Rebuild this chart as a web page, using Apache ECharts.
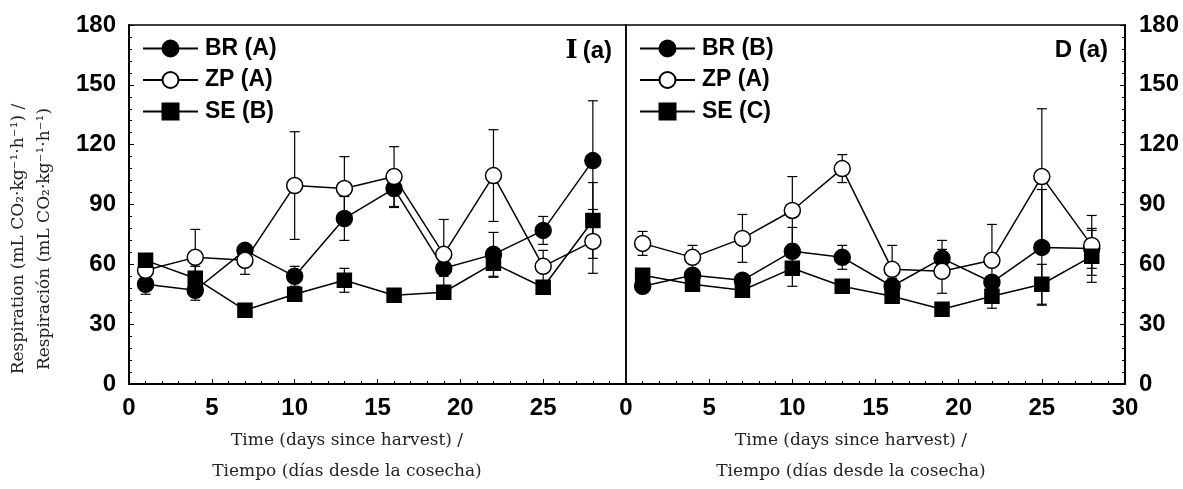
<!DOCTYPE html>
<html>
<head>
<meta charset="utf-8">
<script src="https://cdn.jsdelivr.net/npm/echarts@6/dist/echarts.min.js"></script>
<style>
  html, body { margin: 0; padding: 0; background: #fff; }
  #chart { width: 1183px; height: 489px; }
</style>
</head>
<body>
<div id="chart"></div>
<script>
// days since harvest
const days = [1, 4, 7, 10, 13, 16, 19, 22, 25, 28]
const yTicks = [0, 30, 60, 90, 120, 150, 180]

// panel I (a)
const brI = [50, 47, 67, 54, 83, 98, 58, 65, 77, 112]
const brIErr = [5, 5, 3, 5, 11, 9.5, 4, 11, 7, 30]
const zpI = [57, 63.5, 62, 99.5, 98, 104, 65, 104.5, 59, 71.5]
const zpIErr = [4, 14, 7, 27, 16, 15, 17.5, 23, 8, 16]
const seI = [62, 53, 37, 45, 52, 44.5, 46, 60.5, 48.5, 82]
const seIErr = [3, 6, 2, 3, 6, 2, 2, 7, 2, 19]

// panel D (a)
const brD = [49, 54.5, 52, 66.5, 63.5, 49, 63, 51, 68.5, 68]
const brDErr = [3, 3, 3, 12, 6, 4, 9, 3, 29, 10]
const zpD = [70.5, 63.5, 73, 87, 108, 57.5, 56.5, 62, 104, 69.5]
const zpDErr = [6, 6, 12, 17, 7, 12, 11, 18, 34, 15]
const seD = [54.5, 50, 47, 58, 49, 44, 37.5, 44, 50, 64]
const seDErr = [3, 3, 3, 9, 2, 3, 2, 6, 10, 13]

const sans = "'Liberation Sans', Arial, sans-serif"
const serif = "'DejaVu Serif', serif"

const chart = echarts.init(document.getElementById('chart'))

function pairs(vals) {
  return days.map((d, i) => [d, vals[i]])
}

// vertical error bar with caps, drawn under the markers
function errorBar(idx, vals, errs) {
  return {
    type: 'custom',
    xAxisIndex: idx,
    yAxisIndex: idx,
    silent: true,
    z: 1,
    encode: { x: 0, y: [1, 2] },
    data: days.map((d, i) => [d, vals[i] - errs[i], vals[i] + errs[i]]),
    renderItem(params, api) {
      const lo = api.coord([api.value(0), api.value(1)])
      const hi = api.coord([api.value(0), api.value(2)])
      const w = 5
      const st = { stroke: '#000', lineWidth: 1.2 }
      return {
        type: 'group',
        children: [
          { type: 'line', shape: { x1: hi[0], y1: hi[1], x2: lo[0], y2: lo[1] }, style: st },
          { type: 'line', shape: { x1: hi[0] - w, y1: hi[1], x2: hi[0] + w, y2: hi[1] }, style: st },
          { type: 'line', shape: { x1: lo[0] - w, y1: lo[1], x2: lo[0] + w, y2: lo[1] }, style: st }
        ]
      }
    }
  }
}

function lineSeries(idx, name, vals, kind) {
  const s = {
    name: name,
    type: 'line',
    xAxisIndex: idx,
    yAxisIndex: idx,
    data: pairs(vals),
    z: 3,
    lineStyle: { color: '#000', width: 1.5 },
    itemStyle: { color: '#000', borderColor: '#000', borderWidth: 1.5 },
    symbol: 'circle',
    symbolSize: 16
  }
  if (kind === 'open') {
    s.itemStyle = { color: '#fff', borderColor: '#000', borderWidth: 1.5 }
  }
  if (kind === 'square') {
    s.symbol = 'rect'
    s.symbolSize = 14
  }
  return s
}

function xAxis(idx, showMax) {
  return {
    type: 'value',
    gridIndex: idx,
    min: 0,
    max: 30,
    interval: 5,
    axisLine: { onZero: false, lineStyle: { color: '#000', width: 2 } },
    axisTick: { inside: true, length: 5, lineStyle: { color: '#000', width: 1 } },
    minorTick: { show: true, splitNumber: 5, length: 3, lineStyle: { color: '#000', width: 1 } },
    splitLine: { show: false },
    axisLabel: {
      showMaxLabel: showMax,
      margin: 12,
      color: '#000',
      fontFamily: sans,
      fontWeight: 'bold',
      fontSize: 24
    }
  }
}

function yAxis(idx, pos) {
  return {
    type: 'value',
    gridIndex: idx,
    position: pos,
    min: yTicks[0],
    max: yTicks[yTicks.length - 1],
    interval: yTicks[1] - yTicks[0],
    axisLine: { show: true, onZero: false, lineStyle: { color: '#000', width: 2 } },
    axisTick: { show: true, inside: true, length: 5, lineStyle: { color: '#000', width: 1 } },
    minorTick: { show: true, splitNumber: 5, length: 3, lineStyle: { color: '#000', width: 1 } },
    splitLine: { show: false },
    axisLabel: {
      margin: pos === 'left' ? 13 : 14,
      color: '#000',
      fontFamily: sans,
      fontWeight: 'bold',
      fontSize: 24
    }
  }
}

function legend(left, names) {
  return {
    orient: 'vertical',
    left: left,
    top: 32,
    itemWidth: 55,
    itemHeight: 20,
    itemGap: 8.5,
    selectedMode: false,
    data: names,
    textStyle: {
      color: '#000',
      fontFamily: sans,
      fontWeight: 'bold',
      fontSize: 23,
      lineHeight: 20,
      padding: [0, 0, 0, 2]
    }
  }
}

const axisNameStyle = { fill: '#222', font: '17px ' + serif, textAlign: 'center', textVerticalAlign: 'middle' }

const option = {
  backgroundColor: '#fff',
  animation: false,
  title: [
    {
      text: '{s|I} {b|(a)}',
      right: 566,
      top: 33,
      textStyle: {
        rich: {
          s: { fontFamily: serif, fontWeight: 'bold', fontSize: 26, color: '#000' },
          b: { fontFamily: sans, fontWeight: 'bold', fontSize: 24, color: '#000' }
        }
      }
    },
    {
      text: 'D (a)',
      right: 70,
      top: 33,
      textStyle: { fontFamily: sans, fontWeight: 'bold', fontSize: 24, color: '#000' }
    }
  ],
  legend: [
    legend(137, ['BR (A)', 'ZP (A)', 'SE (B)']),
    legend(634, ['BR (B)', 'ZP (A)', 'SE (C)'])
  ],
  grid: [
    { left: 129, top: 25, width: 497, height: 359, show: true, borderColor: '#000', borderWidth: 1.5 },
    { left: 626, top: 25, width: 499, height: 359, show: true, borderColor: '#000', borderWidth: 1.5 }
  ],
  xAxis: [xAxis(0, false), xAxis(1, true)],
  yAxis: [yAxis(0, 'left'), yAxis(1, 'right')],
  graphic: [
    { type: 'text', x: 19, y: 239, rotation: Math.PI / 2,
      style: Object.assign({ text: 'Respiration (mL CO₂·kg⁻¹·h⁻¹) /' }, axisNameStyle) },
    { type: 'text', x: 45, y: 239, rotation: Math.PI / 2,
      style: Object.assign({ text: 'Respiración (mL CO₂·kg⁻¹·h⁻¹)' }, axisNameStyle) },
    { type: 'text', x: 347, y: 441, style: Object.assign({ text: 'Time (days since harvest) /' }, axisNameStyle) },
    { type: 'text', x: 347, y: 472, style: Object.assign({ text: 'Tiempo (días desde la cosecha)' }, axisNameStyle) },
    { type: 'text', x: 851, y: 441, style: Object.assign({ text: 'Time (days since harvest) /' }, axisNameStyle) },
    { type: 'text', x: 851, y: 472, style: Object.assign({ text: 'Tiempo (días desde la cosecha)' }, axisNameStyle) }
  ],
  series: [
    errorBar(0, brI, brIErr),
    errorBar(0, zpI, zpIErr),
    errorBar(0, seI, seIErr),
    lineSeries(0, 'BR (A)', brI, 'filled'),
    lineSeries(0, 'ZP (A)', zpI, 'open'),
    lineSeries(0, 'SE (B)', seI, 'square'),
    errorBar(1, brD, brDErr),
    errorBar(1, zpD, zpDErr),
    errorBar(1, seD, seDErr),
    lineSeries(1, 'BR (B)', brD, 'filled'),
    lineSeries(1, 'ZP (A)', zpD, 'open'),
    lineSeries(1, 'SE (C)', seD, 'square')
  ]
}

chart.setOption(option)
</script>
</body>
</html>
